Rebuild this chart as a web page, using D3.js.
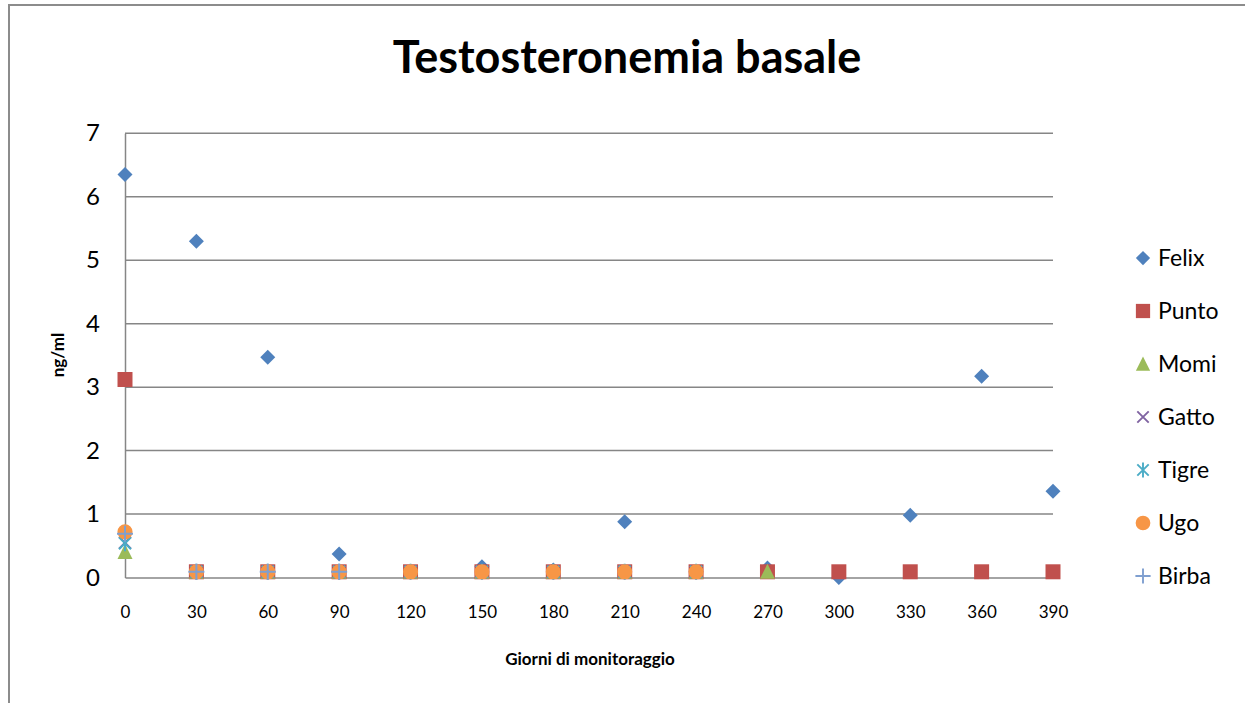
<!DOCTYPE HTML>
<html lang="it">
<head>
<meta charset="utf-8">
<title>Testosteronemia basale</title>
<script src="https://cdn.jsdelivr.net/npm/d3@7"></script>
<style>
html,body{margin:0;padding:0;background:#fff}
svg text{font-family:Lato,"Open Sans",sans-serif;fill:#000}
</style>
</head>
<body>
<div id="chart"></div>
<script>
// giorni di monitoraggio
var days=[0,30,60,90,120,150,180,210,240,270,300,330,360,390];
var yTicks=[0,1,2,3,4,5,6,7];
var seriesNames=["Felix","Punto","Momi","Gatto","Tigre","Ugo","Birba"];
// ng/ml (null = nessun dato)
var felix=[6.35,5.30,3.47,0.37,0.10,0.17,0.12,0.88,0.09,0.15,0.00,0.98,3.17,1.36];
var punto=[3.12,0.09,0.09,0.09,0.09,0.09,0.09,0.09,0.09,0.09,0.09,0.09,0.09,0.09];
var momi=[0.40,0.09,0.09,0.09,0.09,0.09,0.09,0.09,0.09,0.09,null,null,null,null];
var gatto=[0.55,0.09,0.09,0.09,0.09,0.09,0.09,0.09,0.09,null,null,null,null,null];
var tigre=[0.54,0.09,0.09,0.09,0.09,0.09,0.09,0.09,0.09,null,null,null,null,null];
var ugo=[0.72,0.09,0.09,0.09,0.09,0.09,0.09,0.09,0.09,null,null,null,null,null];
var birba=[0.69,0.09,0.09,0.09,null,null,null,null,null,null,null,null,null,null];
var seriesValues=[felix,punto,momi,gatto,tigre,ugo,birba];
var colors=["#4F81BD","#C0504D","#9BBB59","#8064A2","#4BACC6","#F79646","#7F9FD0"];
var shapes=["diamond","square","triangle","x","star","circle","plus"];

var W=1245,H=703;
var plot={left:125,right:1053,top:133.3,bottom:577.5};

var svg=d3.select("#chart").append("svg")
    .attr("width",W)
    .attr("height",H);

// cornice esterna
svg.append("rect")
    .attr("x",9).attr("y",5)
    .attr("width",W+20).attr("height",H+20)
    .attr("fill","#fff")
    .attr("stroke","#8c8c8c")
    .attr("stroke-width",2);

var xScale=d3.scaleLinear().domain([0,390]).range([plot.left,plot.right]);
var yScale=d3.scaleLinear().domain([0,7]).range([plot.bottom,plot.top]);

// griglia
svg.append("g")
    .selectAll("line")
    .data(yTicks.filter(function(d){return d>0}))
    .enter().append("line")
    .attr("x1",plot.left).attr("x2",plot.right)
    .attr("y1",function(d){return yScale(d)})
    .attr("y2",function(d){return yScale(d)})
    .attr("stroke","#868686")
    .attr("stroke-width",1.5);

var yAxis=d3.axisLeft(yScale).tickValues(yTicks).tickFormat(d3.format("d")).tickSize(0).tickPadding(25);
var gy=svg.append("g").attr("transform","translate("+plot.left+",0)").call(yAxis);
gy.select(".domain").attr("stroke","#868686").attr("stroke-width",1.5);
gy.selectAll("text").style("font-size","24px").attr("font-family","Lato,'Open Sans',sans-serif");

var xAxis=d3.axisBottom(xScale).tickValues(days).tickSize(0).tickPadding(28);
var gx=svg.append("g").attr("transform","translate(0,"+plot.bottom+")").call(xAxis);
gx.select(".domain").attr("stroke","#868686").attr("stroke-width",1.5);
gx.selectAll("text").style("font-size","17px").attr("font-family","Lato,'Open Sans',sans-serif");

// simboli
function symbolPath(shape){
    switch(shape){
        case "diamond": return "M0,-7.5L7.5,0L0,7.5L-7.5,0Z";
        case "square": return "M-7.5,-7.5H7.5V7.5H-7.5Z";
        case "triangle": return "M0,-8L7.5,7L-7.5,7Z";
        case "circle": return d3.symbol().type(d3.symbolCircle).size(180)();
        case "x": return "M-6,-6L6,6M-6,6L6,-6";
        case "star": return "M-6,-6L6,6M-6,6L6,-6M0,-8V8";
        case "plus": return "M-8,0H8M0,-8V8";
    }
}
function isStroke(shape){return shape=="x"||shape=="star"||shape=="plus";}

seriesValues.forEach(function(vals,i){
    var pts=days.map(function(d,j){return {x:d,y:vals[j]}}).filter(function(p){return p.y!==null});
    svg.append("g")
        .selectAll("path")
        .data(pts)
        .enter().append("path")
        .attr("transform",function(p){return "translate("+xScale(p.x)+","+yScale(p.y)+")"})
        .attr("d",symbolPath(shapes[i]))
        .attr("fill",isStroke(shapes[i])?"none":colors[i])
        .attr("stroke",isStroke(shapes[i])?colors[i]:"none")
        .attr("stroke-width",2);
});

// legenda
var legend=svg.append("g")
    .selectAll("g")
    .data(seriesNames)
    .enter().append("g")
    .attr("transform",function(d,i){return "translate(1143,"+(258+i*53)+")"});
legend.append("path")
    .attr("d",function(d,i){
        var s=shapes[i];
        if(s=="circle") return d3.symbol().type(d3.symbolCircle).size(170)();
        return symbolPath(s);
    })
    .attr("transform",function(d,i){return shapes[i]=="circle"?null:"scale(0.95)"})
    .attr("fill",function(d,i){return isStroke(shapes[i])?"none":colors[i]})
    .attr("stroke",function(d,i){return isStroke(shapes[i])?colors[i]:"none"})
    .attr("stroke-width",2);
legend.append("text")
    .attr("x",15)
    .attr("dy","0.36em")
    .style("font-size","23px")
    .text(function(d){return d});

// titoli
svg.append("text")
    .attr("x",627).attr("y",73)
    .attr("text-anchor","middle")
    .style("font-size","45px")
    .style("font-weight","bold")
    .text("Testosteronemia basale");
svg.append("text")
    .attr("x",590).attr("y",665)
    .attr("text-anchor","middle")
    .style("font-size","17px")
    .style("font-weight","bold")
    .text("Giorni di monitoraggio");
svg.append("text")
    .attr("transform","translate(64,355) rotate(-90)")
    .attr("text-anchor","middle")
    .style("font-size","17px")
    .style("font-weight","bold")
    .text("ng/ml");
</script>
</body>
</html>
